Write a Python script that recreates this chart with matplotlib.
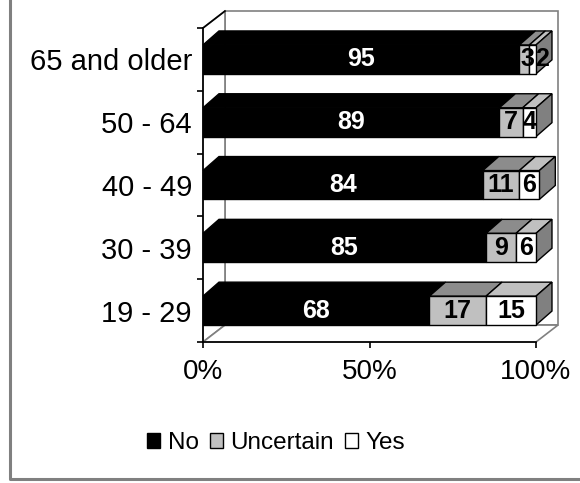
import matplotlib
matplotlib.use("Agg")
import matplotlib.pyplot as plt
from matplotlib.patches import Polygon, Patch
from matplotlib.lines import Line2D

plt.rcParams['font.family'] = ['Liberation Sans', 'DejaVu Sans']

# ----------- DATA -----------
categories = ["19 - 29", "30 - 39", "40 - 49", "50 - 64", "65 and older"]
no_vals = [68, 85, 84, 89, 95]
uncertain_vals = [17, 9, 11, 7, 3]
yes_vals = [15, 6, 6, 4, 2]
series_names = ["No", "Uncertain", "Yes"]
x_ticks = [0, 50, 100]
x_tick_labels = ["0%", "50%", "100%"]

# ----------- STYLE -----------
front_cols = ["#000000", "#C0C0C0", "#FFFFFF"]
top_cols = ["#000000", "#8C8C8C", "#C0C0C0"]
side_cols = ["#000000", "#606060", "#808080"]
label_cols = ["white", "black", "black"]
narrow_shift = [0, 2, 6.5]  # pt, nudges labels of very thin segments apart
wall_col = "#808080"

W, H = 580, 483
fig = plt.figure(figsize=(W / 100, H / 100), dpi=100)
ax = fig.add_axes([203 / W, 1 - 342 / H, 333 / W, 314 / H])
ax.set_xlim(0, 100)
ax.set_ylim(-0.5, len(categories) - 0.5)
ax.patch.set_visible(False)

# depth offsets (data units)
wall_dx, wall_dy = 6.6, 0.27
bar_dx, bar_dy = 4.8, 0.223
bar_h = 0.46
y0, y1 = -0.5, len(categories) - 0.5

# ----------- WALLS -----------
back = Polygon([(wall_dx, y0 + wall_dy), (100 + wall_dx, y0 + wall_dy),
                (100 + wall_dx, y1 + wall_dy), (wall_dx, y1 + wall_dy)],
               closed=True, fc="white", ec=wall_col, lw=1.2, clip_on=False, zorder=0.5)
left = Polygon([(0, y0), (wall_dx, y0 + wall_dy), (wall_dx, y1 + wall_dy), (0, y1)],
               closed=True, fc="white", ec=wall_col, lw=1.2, clip_on=False, zorder=0.6)
floor = Polygon([(0, y0), (wall_dx, y0 + wall_dy), (100 + wall_dx, y0 + wall_dy), (100, y0)],
                closed=True, fc="white", ec=wall_col, lw=1.2, clip_on=False, zorder=0.6)
for p in (back, left, floor):
    ax.add_patch(p)
ax.plot([0, wall_dx], [y1, y1 + wall_dy], color="black", lw=1.2, clip_on=False, zorder=0.7)

# ----------- BARS -----------
series = [no_vals, uncertain_vals, yes_vals]
for i, cat in enumerate(categories):
    left_x = 0
    bot, top = i - bar_h / 2, i + bar_h / 2
    for k, vals in enumerate(series):
        v = vals[i]
        right_x = left_x + v
        ax.add_patch(Polygon([(left_x, top), (right_x, top),
                              (right_x + bar_dx, top + bar_dy), (left_x + bar_dx, top + bar_dy)],
                             closed=True, fc=top_cols[k], ec="black", lw=1, clip_on=False, zorder=3))
        if k == len(series) - 1:
            ax.add_patch(Polygon([(right_x, bot), (right_x, top),
                                  (right_x + bar_dx, top + bar_dy), (right_x + bar_dx, bot + bar_dy)],
                                 closed=True, fc=side_cols[k], ec="black", lw=1, clip_on=False, zorder=3))
        ax.add_patch(Polygon([(left_x, bot), (right_x, bot), (right_x, top), (left_x, top)],
                             closed=True, fc=front_cols[k], ec="black", lw=1, clip_on=False, zorder=3))
        shift = narrow_shift[k] if v < 4 else 0
        ax.annotate(str(v), (left_x + v / 2, i), xytext=(shift, 0), textcoords="offset points",
                    ha="center", va="center", fontsize=18, fontweight="bold",
                    color=label_cols[k], zorder=4)
        left_x = right_x

# ----------- AXES -----------
for s in ("top", "right"):
    ax.spines[s].set_visible(False)
for s in ("left", "bottom"):
    ax.spines[s].set_color("black")
    ax.spines[s].set_linewidth(1.2)
    ax.spines[s].set_zorder(5)

ax.set_yticks(range(len(categories)))
ax.set_yticklabels(categories, fontsize=21)
ax.set_yticks([i - 0.5 for i in range(len(categories) + 1)], minor=True)
ax.tick_params(axis="y", which="major", length=0, pad=8)
ax.tick_params(axis="y", which="minor", length=4.5, width=1.2, direction="out")
ax.set_xticks(x_ticks, x_tick_labels, fontsize=20)
ax.tick_params(axis="x", length=4, width=1.2, pad=8)

# outer chart frame (cropped at top/right in the original)
fig.add_artist(Line2D([9.5 / W, 9.5 / W, 1.0], [1.0, 4.5 / H, 4.5 / H],
                      color=wall_col, lw=2.2))

# ----------- LEGEND -----------
handles = [Patch(fc=front_cols[k], ec="black", lw=1) for k in range(len(series_names))]
fig.legend(handles, series_names, loc="center", bbox_to_anchor=(276 / W, 1 - 443 / H),
           ncol=3, frameon=False, fontsize=17.5, handlelength=0.55, handleheight=0.55,
           handletextpad=0.3, columnspacing=0.45, borderaxespad=0, borderpad=0)

fig.savefig("out.png", dpi=100)
